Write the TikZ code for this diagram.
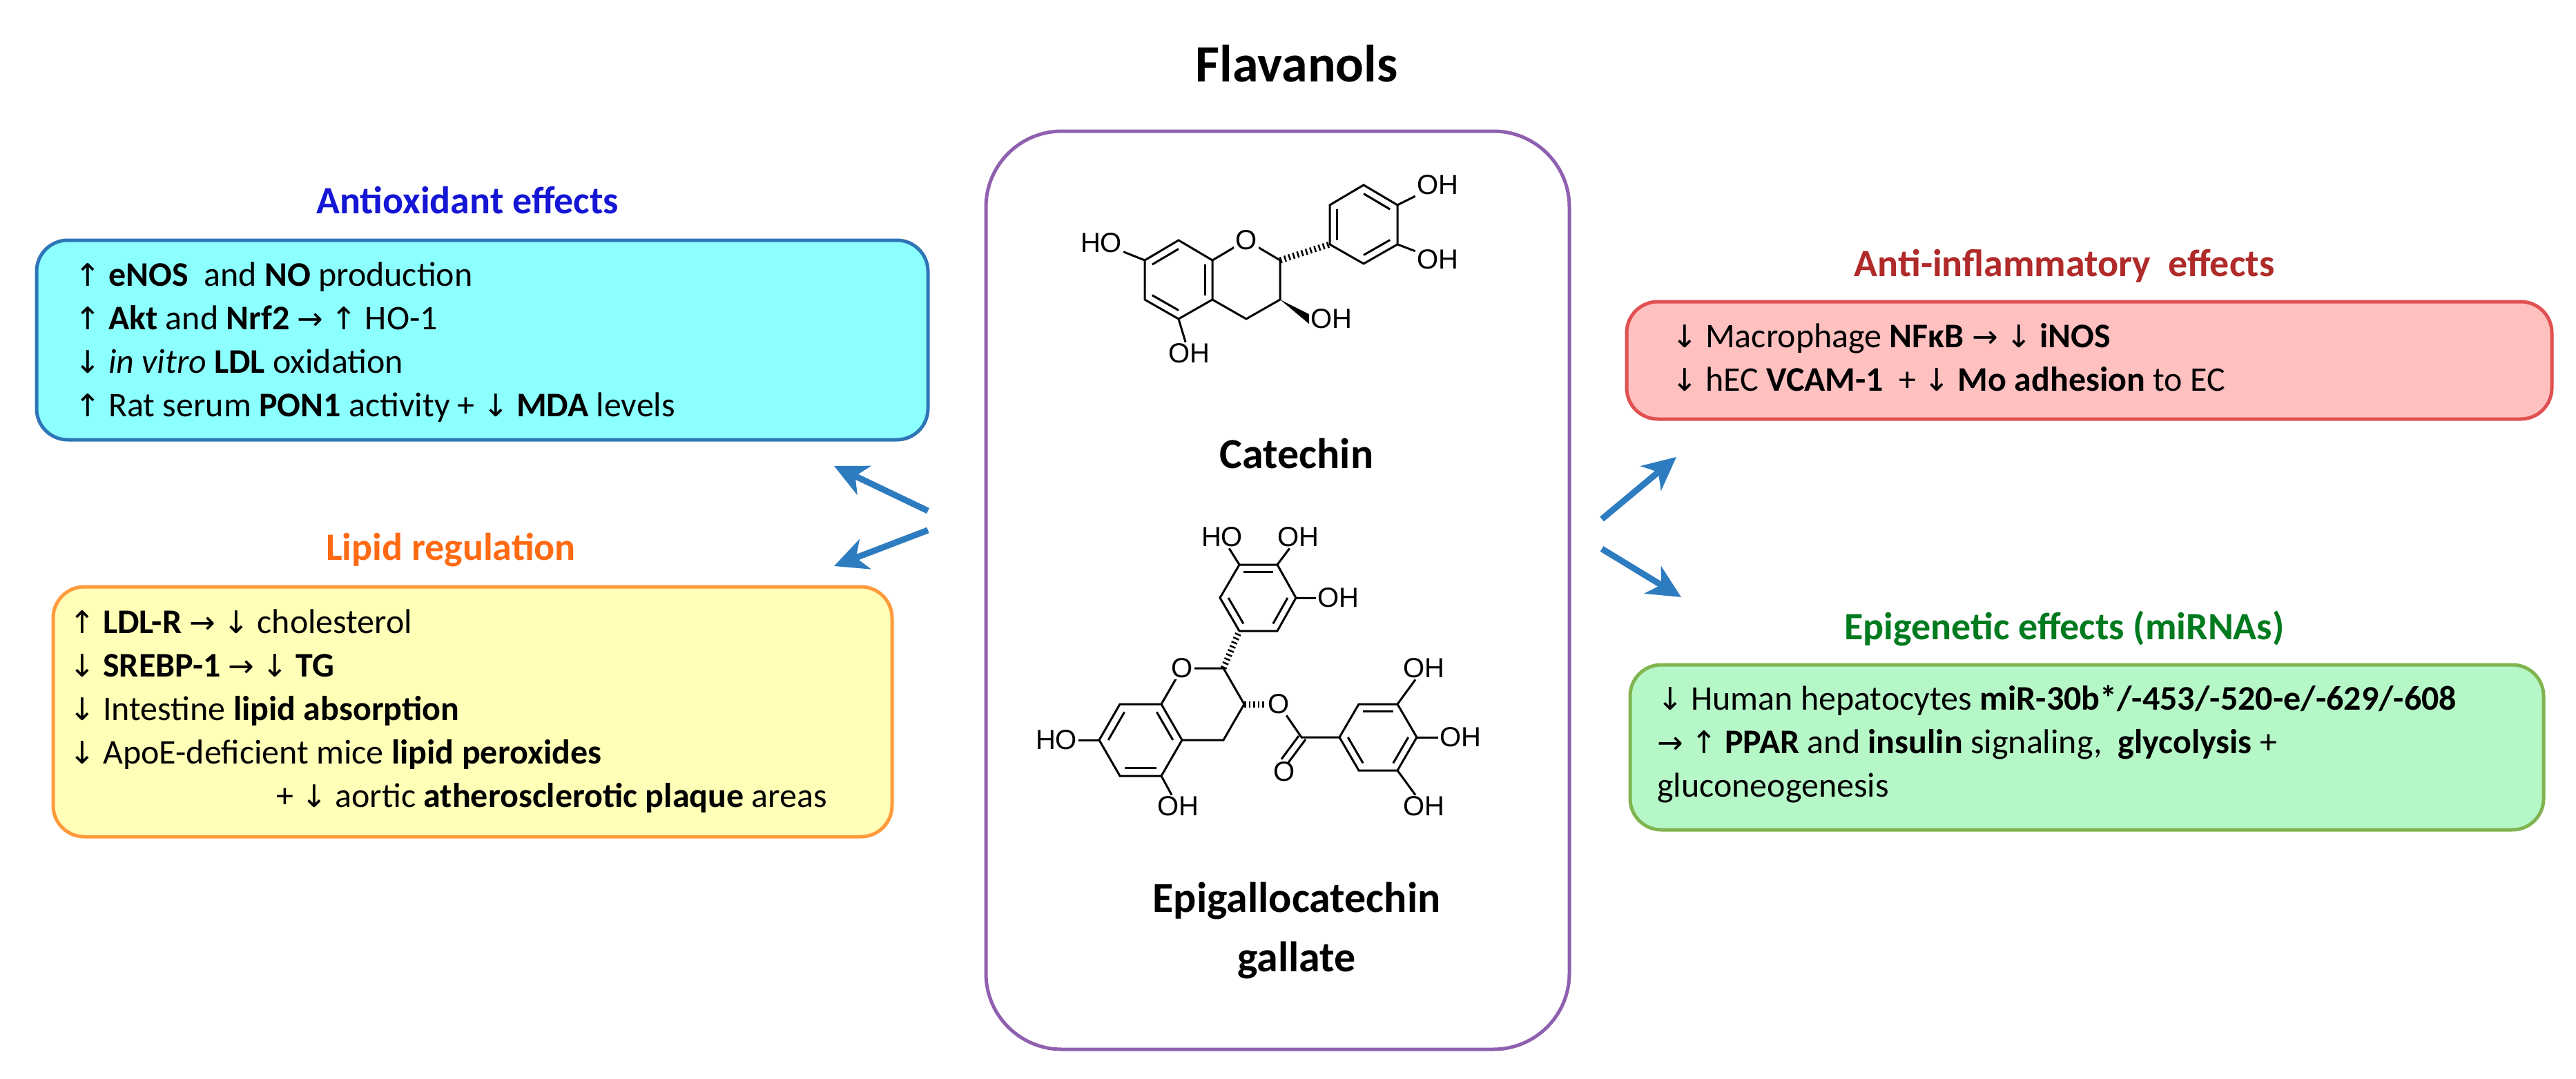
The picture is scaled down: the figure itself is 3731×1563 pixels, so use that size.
\documentclass[tikz,border=0pt]{standalone}
\usepackage{fontspec}
\setmainfont{Carlito}
\newfontfamily\chemfont{Liberation Sans}
\newfontfamily\arrfont{DejaVu Sans}[Scale=0.9]
\newcommand{\flup}{{\arrfont ↑}}
\newcommand{\fldn}{{\arrfont ↓}}
\newcommand{\flrt}{{\arrfont →}}
\usetikzlibrary{arrows.meta, calc}

\definecolor{oxfill}{HTML}{8CFFFF}
\definecolor{oxline}{HTML}{2E75B6}
\definecolor{oxtitle}{HTML}{1515D5}
\definecolor{lipfill}{HTML}{FFFFB8}
\definecolor{lipline}{HTML}{FF9A3C}
\definecolor{liptitle}{HTML}{FF6A13}
\definecolor{infill}{HTML}{FFC0C0}
\definecolor{inline}{HTML}{E05050}
\definecolor{intitle}{HTML}{B02A2A}
\definecolor{epifill}{HTML}{B6F7C8}
\definecolor{epiline}{HTML}{80B450}
\definecolor{epititle}{HTML}{007A1F}
\definecolor{flavline}{HTML}{9060B0}
\definecolor{arrowblue}{HTML}{2E7CC0}

\begin{document}
\begin{tikzpicture}[x=1pt, y=-1pt,
    box/.style={draw, line width=5pt, rounded corners=45pt},
    body/.style={anchor=west, align=left, font=\fontsize{50}{63}\selectfont, inner sep=0pt},
    heading/.style={font=\fontsize{56}{60}\selectfont\bfseries},
    cmpd/.style={font=\fontsize{62}{86}\selectfont\bfseries, align=center},
    link/.style={-{Stealth[length=48pt, width=46pt, inset=14pt]}, line width=9pt, arrowblue},
    bond/.style={line width=3pt},
    atom/.style={font=\chemfont\fontsize{40}{40}\selectfont, fill=white, inner sep=2pt},
    hashbond/.style={line width=9pt, dash pattern=on 2.5pt off 4pt}
  ]
  \useasboundingbox (0,0) rectangle (3731,1563);

  % title and centre panel
  \node[font=\fontsize{76}{80}\selectfont\bfseries] (flav) at (1878,92) {Flavanols};
  \draw[box, flavline, rounded corners=110pt] (1428,190) rectangle (2273,1520);
  \node[cmpd] (cat) at (1878,657) {Catechin};
  \node[cmpd] (egcg) at (1878,1348) {Epigallocatechin\\gallate};

  % effect boxes
  \node[heading, oxtitle] (oxt) at (677,290) {Antioxidant effects};
  \draw[box, oxline, fill=oxfill] (53,348) rectangle (1344,637);
  \node[body] (oxb) at (108,496) {\flup\ \textbf{eNOS}\ \ and \textbf{NO} production\\
    \flup\ \textbf{Akt} and \textbf{Nrf2} \flrt\ \flup\ HO-1\\
    \fldn\ \textit{in vitro} \textbf{LDL} oxidation\\
    \flup\ Rat serum \textbf{PON1} activity + \fldn\ \textbf{MDA} levels};

  \node[heading, liptitle] (lipt) at (653,797) {Lipid regulation};
  \draw[box, lipline, fill=lipfill] (77,850) rectangle (1292,1212);
  \node[body] (lipb) at (100,1030) {\flup\ \textbf{LDL-R} \flrt\ \fldn\ cholesterol\\
    \fldn\ \textbf{SREBP-1} \flrt\ \fldn\ \textbf{TG}\\
    \fldn\ Intestine \textbf{lipid absorption}\\
    \fldn\ ApoE-deficient mice \textbf{lipid peroxides}\\
    \hspace*{300pt}+ \fldn\ aortic \textbf{atherosclerotic plaque} areas};

  \node[heading, intitle] (inft) at (2990,385) {Anti-inflammatory\ \ effects};
  \draw[box, inline, fill=infill] (2356,437) rectangle (3696,607);
  \node[body] (infb) at (2421,518) {\fldn\ Macrophage \textbf{NFκB} \flrt\ \fldn\ \textbf{iNOS}\\
    \fldn\ hEC \textbf{VCAM-1}\ \ + \fldn\ \textbf{Mo adhesion} to EC};

  \node[heading, epititle] (epit) at (2990,910) {Epigenetic effects (miRNAs)};
  \draw[box, epiline, fill=epifill] (2361,963) rectangle (3684,1202);
  \node[body] (epib) at (2400,1078) {\fldn\ Human hepatocytes \textbf{miR-30b*/-453/-520-e/-629/-608}\\
    \flrt\ \flup\ \textbf{PPAR} and \textbf{insulin} signaling,\ \ \textbf{glycolysis} +\\
    gluconeogenesis};

  % arrows
  \coordinate (l1s) at (1344,740); \coordinate (l1e) at (1208,675);
  \coordinate (l2s) at (1344,768); \coordinate (l2e) at (1208,820);
  \coordinate (r1s) at (2320,752); \coordinate (r1e) at (2428,662);
  \coordinate (r2s) at (2320,795); \coordinate (r2e) at (2435,865);
  \draw[link] (l1s) -- (l1e);
  \draw[link] (l2s) -- (l2e);
  \draw[link] (r1s) -- (r1e);
  \draw[link] (r2s) -- (r2e);

  % catechin
  \coordinate (ca1) at (1707,348); \coordinate (ca2) at (1756,377);
  \coordinate (ca3) at (1756,434); \coordinate (ca4) at (1707,462);
  \coordinate (ca5) at (1658,434); \coordinate (ca6) at (1658,377);
  \coordinate (caA) at (1707,405);
  \coordinate (cO) at (1805,348); \coordinate (cC2) at (1854,377);
  \coordinate (cC3) at (1854,434); \coordinate (cC4) at (1805,462);
  \coordinate (cb1) at (1975,268); \coordinate (cb2) at (2024,297);
  \coordinate (cb3) at (2024,354); \coordinate (cb4) at (1975,382);
  \coordinate (cb5) at (1926,354); \coordinate (cb6) at (1926,297);
  \coordinate (cbB) at (1975,325);
  \draw[bond] (ca1) -- (ca2) -- (ca3) -- (ca4) -- (ca5) -- (ca6) -- cycle;
  \draw[bond] (ca2) -- (cO) -- (cC2) -- (cC3) -- (cC4) -- (ca3);
  \draw[bond] (cb1) -- (cb2) -- (cb3) -- (cb4) -- (cb5) -- (cb6) -- cycle;
  \foreach \p/\q in {ca6/ca1, ca2/ca3, ca4/ca5}
    \draw[bond] ($(caA)!0.78!(\p)$) -- ($(caA)!0.78!(\q)$);
  \foreach \p/\q in {cb5/cb6, cb1/cb2, cb3/cb4}
    \draw[bond] ($(cbB)!0.78!(\p)$) -- ($(cbB)!0.78!(\q)$);
  \draw[hashbond] (cC2) -- (cb5);
  \node[atom] (cOl) at (cO) {O};
  \node[atom] (cHO7) at (1595,352) {HO};
  \node[atom] (cOH5) at (1722,512) {OH};
  \node[atom] (cOH3) at (1928,462) {OH};
  \node[atom] (cOH3p) at (2082,268) {OH};
  \node[atom] (cOH4p) at (2082,376) {OH};
  \draw[bond] (ca6) -- (cHO7);
  \draw[bond] (ca4) -- (cOH5);
  \draw[bond] (cb2) -- (cOH3p);
  \draw[bond] (cb3) -- (cOH4p);
  \fill (cC3) -- ($(cOH3.west)+(0,-7)$) -- ($(cOH3.west)+(0,7)$) -- cycle;

  % epigallocatechin gallate
  \coordinate (ea1) at (1592,1072); \coordinate (ea2) at (1622,1020);
  \coordinate (ea3) at (1682,1020); \coordinate (ea4) at (1712,1072);
  \coordinate (ea5) at (1682,1124); \coordinate (ea6) at (1622,1124);
  \coordinate (eaA) at (1652,1072);
  \coordinate (eO) at (1712,968); \coordinate (eC2) at (1772,968);
  \coordinate (eC3) at (1802,1020); \coordinate (eC4) at (1772,1072);
  \coordinate (eb1) at (1877,866); \coordinate (eb2) at (1850,818);
  \coordinate (eb3) at (1795,818); \coordinate (eb4) at (1767,866);
  \coordinate (eb5) at (1795,914); \coordinate (eb6) at (1850,914);
  \coordinate (ebB) at (1822,866);
  \coordinate (eg1) at (1940,1068); \coordinate (eg2) at (1968,1020);
  \coordinate (eg3) at (2024,1020); \coordinate (eg4) at (2052,1068);
  \coordinate (eg5) at (2024,1116); \coordinate (eg6) at (1968,1116);
  \coordinate (egG) at (1996,1068);
  \coordinate (eCc) at (1885,1068);
  \draw[bond] (ea1) -- (ea2) -- (ea3) -- (ea4) -- (ea5) -- (ea6) -- cycle;
  \draw[bond] (ea3) -- (eO) -- (eC2) -- (eC3) -- (eC4) -- (ea4);
  \draw[bond] (eb1) -- (eb2) -- (eb3) -- (eb4) -- (eb5) -- (eb6) -- cycle;
  \draw[bond] (eg1) -- (eg2) -- (eg3) -- (eg4) -- (eg5) -- (eg6) -- cycle;
  \foreach \p/\q in {ea1/ea2, ea3/ea4, ea5/ea6}
    \draw[bond] ($(eaA)!0.78!(\p)$) -- ($(eaA)!0.78!(\q)$);
  \foreach \p/\q in {eb2/eb3, eb4/eb5, eb6/eb1}
    \draw[bond] ($(ebB)!0.78!(\p)$) -- ($(ebB)!0.78!(\q)$);
  \foreach \p/\q in {eg2/eg3, eg4/eg5, eg6/eg1}
    \draw[bond] ($(egG)!0.78!(\p)$) -- ($(egG)!0.78!(\q)$);
  \draw[hashbond] (eC2) -- (eb5);
  \node[atom] (eOl) at (eO) {O};
  \node[atom] (eOe) at (1852,1020) {O};
  \node[atom] (eOc) at (1860,1118) {O};
  \draw[hashbond] (eC3) -- (eOe);
  \draw[bond] (eOe) -- (eCc) -- (eg1);
  \draw[bond] ($(eCc)+(-4,-2)$) -- ($(eOc.north)+(-4,-2)$);
  \draw[bond] ($(eCc)+(6,3)$) -- ($(eOc.north)+(6,3)$);
  \node[atom] (eHO7) at (1530,1072) {HO};
  \node[atom] (eOH5) at (1706,1168) {OH};
  \node[atom] (eHO3p) at (1770,778) {HO};
  \node[atom] (eOH4p) at (1880,778) {OH};
  \node[atom] (eOH5p) at (1938,866) {OH};
  \node[atom] (eOHg1) at (2062,968) {OH};
  \node[atom] (eOHg2) at (2115,1068) {OH};
  \node[atom] (eOHg3) at (2062,1168) {OH};
  \draw[bond] (ea1) -- (eHO7);
  \draw[bond] (ea5) -- (eOH5);
  \draw[bond] (eb3) -- (eHO3p);
  \draw[bond] (eb2) -- (eOH4p);
  \draw[bond] (eb1) -- (eOH5p);
  \draw[bond] (eg3) -- (eOHg1);
  \draw[bond] (eg4) -- (eOHg2);
  \draw[bond] (eg5) -- (eOHg3);
\end{tikzpicture}
\end{document}
